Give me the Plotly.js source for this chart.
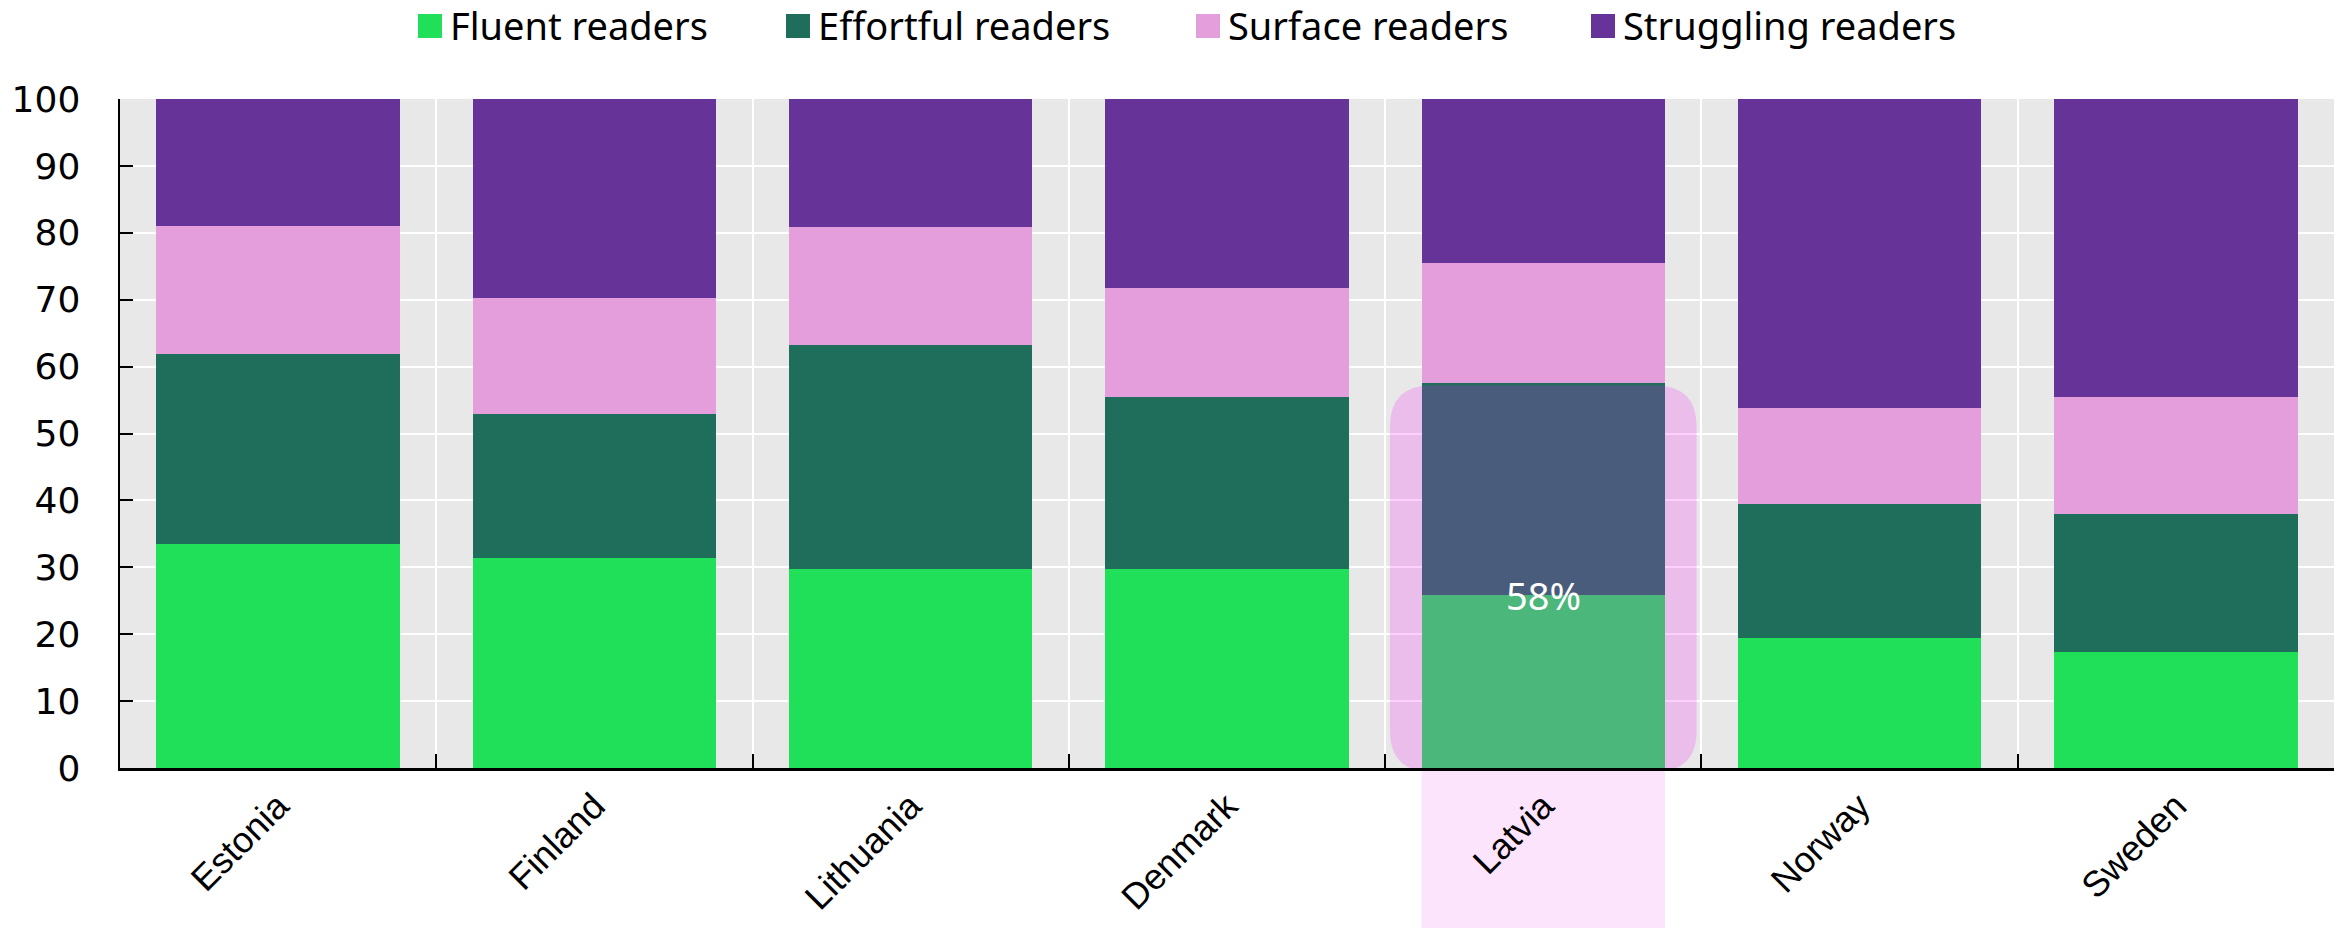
<!DOCTYPE html>
<html><head><meta charset="utf-8">
<script src="https://cdn.plot.ly/plotly-3.0.1.min.js"></script>
<style>html,body{margin:0;padding:0;background:#fff;overflow:hidden}</style>
</head><body><div id="chart" style="width:2346px;height:928px"></div>
<script>
// ---- data ----
const countries  = ['Estonia','Finland','Lithuania','Denmark','Latvia','Norway','Sweden'];
const fluent     = [33.5, 31.4, 29.8, 29.8, 25.9, 19.4, 17.4];
const effortful  = [28.4, 21.5, 33.4, 25.6, 31.6, 20.0, 20.5];
const surface    = [19.1, 17.4, 17.7, 16.3, 18.0, 14.4, 17.5];
const struggling = [19.0, 29.7, 19.1, 28.3, 24.5, 46.2, 44.6];
const seriesNames = ['Fluent readers','Effortful readers','Surface readers','Struggling readers'];
const highlight = 'Latvia';
const yTicks = [0,10,20,30,40,50,60,70,80,90,100];

// ---- style ----
const colors = ['#20e05a','#1f6e5c','#e39edb','#663399'];
const W = 2346, H = 928;
const M = {l:120, r:12, t:99, b:160};
const PW = W - M.l - M.r, PH = H - M.t - M.b;
const px2x = p => (p - M.l) / PW;
const px2y = p => (H - M.b - p) / PH;
const bargap = 0.23;

const series = [fluent, effortful, surface, struggling];
const traces = series.map((vals, i) => ({
  type: 'bar', name: seriesNames[i], x: countries, y: vals,
  marker: {color: colors[i], line: {width: 0}},
  showlegend: false, hoverinfo: 'x+y+name'
}));

const shapes = [];
const annotations = [];

// custom legend (large square swatches)
const legendMarkerPx = [418, 786, 1196, 1591];
seriesNames.forEach((n, i) => {
  const x0 = legendMarkerPx[i];
  shapes.push({type:'rect', xref:'paper', yref:'paper', layer:'above',
    x0: px2x(x0), x1: px2x(x0 + 24), y0: px2y(38), y1: px2y(14),
    fillcolor: colors[i], line:{width:0}});
  annotations.push({xref:'paper', yref:'paper', x: px2x(x0 + 31), y: px2y(25),
    xanchor:'left', yanchor:'middle', showarrow:false, text:n, borderpad:0,
    font:{family:'"Noto Sans", sans-serif', size:38, color:'#000'}});
});

// highlight
const hi = countries.indexOf(highlight);
const nCat = countries.length;
const half = (1 - bargap) / 2;
shapes.push({type:'rect', xref:'paper', yref:'paper', layer:'below',
  x0: (hi + 0.5 - half) / nCat, x1: (hi + 0.5 + half) / nCat,
  y0: -M.b / PH, y1: 0, fillcolor:'#fce4fc', line:{width:0}});

const topV = fluent[hi] + effortful[hi] - 0.3;
const rPx = 42;
const rx = rPx / (PW / nCat), ry = rPx / (PH / 100);
const hx0 = hi - 0.485, hx1 = hi + 0.485, hy0 = -0.6, hy1 = topV;
const path = `M ${hx0+rx},${hy0} L ${hx1-rx},${hy0} Q ${hx1},${hy0} ${hx1},${hy0+ry} ` +
  `L ${hx1},${hy1-ry} Q ${hx1},${hy1} ${hx1-rx},${hy1} L ${hx0+rx},${hy1} ` +
  `Q ${hx0},${hy1} ${hx0},${hy1-ry} L ${hx0},${hy0+ry} Q ${hx0},${hy0} ${hx0+rx},${hy0} Z`;
shapes.push({type:'path', xref:'x', yref:'y', layer:'above', path: path,
  fillcolor:'rgba(250,20,250,0.2)', line:{width:0}});

annotations.push({xref:'x', yref:'y', x: highlight, y: fluent[hi], showarrow:false,
  xanchor:'center', yanchor:'middle',
  text: Math.round(fluent[hi] + effortful[hi]) + '%',
  font:{family:'"Noto Sans", sans-serif', size:38, color:'#ffffff'}});

const layout = {
  width: W, height: H,
  margin: M,
  paper_bgcolor: '#ffffff', plot_bgcolor: '#e8e8e8',
  barmode: 'stack', bargap: bargap,
  showlegend: false,
  xaxis: {
    type:'category', tickson:'boundaries', ticks:'inside', ticklen:14, tickwidth:2, tickcolor:'#000',
    showgrid:true, gridcolor:'#ffffff', gridwidth:2,
    showline:true, linecolor:'#000', linewidth:2.5,
    tickangle:-45, ticklabelstandoff: 0,
    tickfont:{family:'"Liberation Sans", Arial, sans-serif', size:36, color:'#000'},
    fixedrange:true
  },
  yaxis: {
    range:[0,100], tickvals: yTicks, ticks:'inside', ticklen:13, tickwidth:2, tickcolor:'#000',
    showgrid:true, gridcolor:'#ffffff', gridwidth:2, zeroline:false,
    showline:true, linecolor:'#000', linewidth:2.5,
    ticklabelstandoff: 30,
    tickfont:{family:'"DejaVu Sans", sans-serif', size:36, color:'#000'},
    fixedrange:true
  },
  shapes: shapes,
  annotations: annotations
};

Plotly.newPlot('chart', traces, layout, {displayModeBar:false, staticPlot:true});
</script>
</body></html>
